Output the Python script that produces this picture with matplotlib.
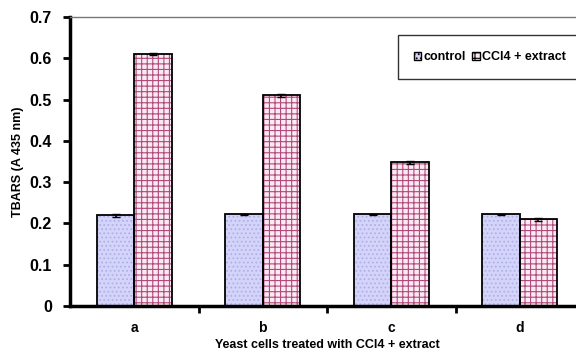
import matplotlib
matplotlib.use("Agg")
import matplotlib.pyplot as plt
import numpy as np
from matplotlib.patches import Patch

plt.rcParams['font.family'] = ['Liberation Sans', 'DejaVu Sans']
plt.rcParams['hatch.linewidth'] = 0.8

categories = ['a', 'b', 'c', 'd']
control = [0.220, 0.222, 0.222, 0.222]
control_err = [0.004, 0.002, 0.002, 0.002]
ccl4_extract = [0.610, 0.510, 0.348, 0.210]
ccl4_err = [0.003, 0.004, 0.003, 0.003]

series_labels = ['control', 'CCl4 + extract']
y_ticks = [0, 0.1, 0.2, 0.3, 0.4, 0.5, 0.6, 0.7]
y_tick_labels = ['0', '0.1', '0.2', '0.3', '0.4', '0.5', '0.6', '0.7']

fig = plt.figure(figsize=(5.76, 3.58), dpi=100)
ax = fig.add_axes([70 / 576, 52 / 358, 514 / 576, 289 / 358])

x = np.arange(len(categories))
w = 0.29

# control bars: lavender with dotted texture
ax.bar(x - w / 2, control, w, color='#d4d4fb', edgecolor='#b0b0e8',
       hatch='....', linewidth=0, zorder=2)
ax.bar(x - w / 2, control, w, fill=False, edgecolor='black', linewidth=1.3, zorder=3)
ax.errorbar(x - w / 2, control, yerr=control_err, fmt='none', ecolor='black',
            elinewidth=1.2, capsize=3, zorder=4)

# CCl4 + extract bars: pink grid texture
ax.bar(x + w / 2, ccl4_extract, w, color='#fbeaf2', edgecolor='#b04a7c',
       hatch='+++', linewidth=0, zorder=2)
ax.bar(x + w / 2, ccl4_extract, w, fill=False, edgecolor='black', linewidth=1.3, zorder=3)
ax.errorbar(x + w / 2, ccl4_extract, yerr=ccl4_err, fmt='none', ecolor='black',
            elinewidth=1.2, capsize=3, zorder=4)

ax.set_xlim(-0.5, 3.5)
ax.set_ylim(0, 0.7)
ax.set_yticks(y_ticks)
ax.set_yticklabels(y_tick_labels, fontsize=11.5, fontweight='bold')
ax.set_xticks([0.5, 1.5, 2.5], minor=False)
ax.set_xticklabels([])
ax.set_xticks(x, minor=True)
ax.set_xticklabels(categories, minor=True, fontsize=10, fontweight='bold')
ax.tick_params(axis='x', which='minor', length=0, pad=11)
ax.tick_params(axis='x', which='major', length=5, width=2, direction='out')
ax.tick_params(axis='y', length=5, width=2, direction='out', pad=8)

ax.spines['left'].set_linewidth(2.5)
ax.spines['bottom'].set_linewidth(2.5)
ax.spines['top'].set_linewidth(1.0)
ax.spines['top'].set_color('#777777')
ax.spines['right'].set_visible(False)

ax.set_ylabel('TBARS (A 435 nm)', fontsize=9, fontweight='bold', labelpad=4)
ax.set_xlabel('Yeast cells treated with CCl4 + extract', fontsize=9,
              fontweight='bold', labelpad=3)

handles = [
    Patch(facecolor='#d4d4fb', edgecolor='black', hatch='....'),
    Patch(facecolor='#fbeaf2', edgecolor='black', hatch='+++'),
]
leg = ax.legend(handles, series_labels, loc='upper left', bbox_to_anchor=(0.625, 0.96),
                ncol=2, frameon=True, fancybox=False, edgecolor='black',
                handlelength=0.6, handleheight=0.6, handletextpad=0.2,
                columnspacing=0.5, borderpad=1.3,
                prop={'size': 9, 'weight': 'bold'})
leg.get_frame().set_linewidth(1.0)

fig.savefig('out.png', dpi=100)
